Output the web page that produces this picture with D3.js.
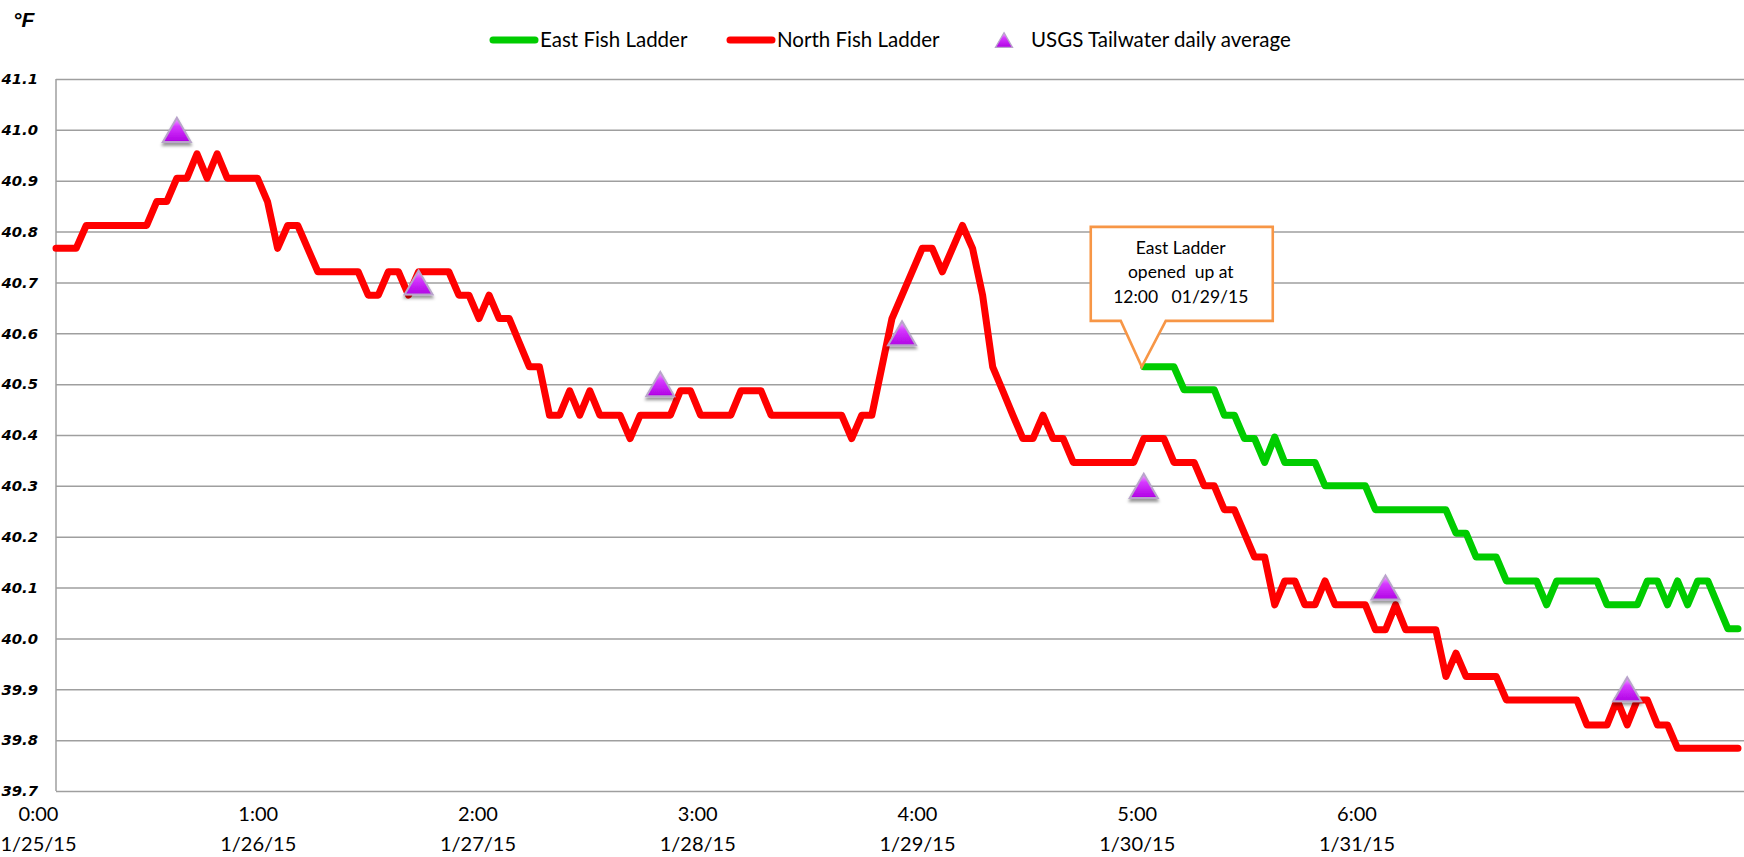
<!DOCTYPE html>
<html>
<head>
<meta charset="utf-8">
<script src="https://cdn.jsdelivr.net/npm/d3@7"></script>
<style>
	body { margin: 0; background: #fff; }
	svg { display: block; }
</style>
</head>
<body>
<svg id="tempChart" width="1744" height="857"></svg>
<script>
//=============== 데이터 (hours since 1/25/15 0:00, °F) ===============
const northHours = [0, 2, 3, 9, 10, 11, 12, 13, 14, 15, 16, 17, 20, 21, 22, 23, 24, 26, 30, 31, 32, 33, 34, 35, 36, 39, 40, 41, 42, 43, 44, 45, 47, 48, 49, 50, 51, 52, 53, 54, 56, 57, 58, 61, 62, 63, 64, 67, 68, 70, 71, 78, 79, 80, 81, 83, 86, 87, 88, 90, 91, 92, 93, 94, 95, 96, 97, 98, 99, 100, 101, 107, 108, 110, 111, 113, 114, 115, 116, 117, 119, 120, 121, 122, 123, 124, 125, 126, 127, 130, 131, 132, 133, 134, 137, 138, 139, 140, 143, 144, 151, 152, 154, 155, 156, 157, 158, 159, 160, 161, 167];
const northTemps = [40.767, 40.767, 40.812, 40.812, 40.859, 40.859, 40.905, 40.905, 40.953, 40.905, 40.953, 40.905, 40.905, 40.859, 40.767, 40.812, 40.812, 40.721, 40.721, 40.675, 40.675, 40.721, 40.721, 40.675, 40.721, 40.721, 40.675, 40.675, 40.629, 40.675, 40.629, 40.629, 40.534, 40.534, 40.439, 40.439, 40.487, 40.439, 40.487, 40.439, 40.439, 40.393, 40.439, 40.439, 40.487, 40.487, 40.439, 40.439, 40.487, 40.487, 40.439, 40.439, 40.393, 40.439, 40.439, 40.629, 40.767, 40.767, 40.721, 40.812, 40.767, 40.675, 40.534, 40.487, 40.439, 40.393, 40.393, 40.439, 40.393, 40.393, 40.346, 40.346, 40.393, 40.393, 40.346, 40.346, 40.300, 40.300, 40.253, 40.253, 40.160, 40.160, 40.066, 40.113, 40.113, 40.066, 40.066, 40.113, 40.066, 40.066, 40.017, 40.017, 40.066, 40.017, 40.017, 39.925, 39.971, 39.925, 39.925, 39.879, 39.879, 39.830, 39.830, 39.879, 39.830, 39.879, 39.879, 39.830, 39.830, 39.784, 39.784];

const eastHours = [108, 111, 112, 115, 116, 117, 118, 119, 120, 121, 122, 125, 126, 130, 131, 138, 139, 140, 141, 143, 144, 147, 148, 149, 153, 154, 157, 158, 159, 160, 161, 162, 163, 164, 166, 167];
const eastTemps = [40.534, 40.534, 40.489, 40.489, 40.439, 40.439, 40.393, 40.393, 40.346, 40.396, 40.346, 40.346, 40.300, 40.300, 40.253, 40.253, 40.207, 40.207, 40.160, 40.160, 40.113, 40.113, 40.066, 40.113, 40.113, 40.066, 40.066, 40.113, 40.113, 40.066, 40.113, 40.066, 40.113, 40.113, 40.019, 40.019];

const usgsHours = [12, 36, 60, 84, 108, 132, 156];
const usgsTemps = [41.0, 40.7, 40.5, 40.6, 40.3, 40.1, 39.9];

const yTicks = [39.7, 39.8, 39.9, 40.0, 40.1, 40.2, 40.3, 40.4, 40.5, 40.6, 40.7, 40.8, 40.9, 41.0, 41.1];
const xTickTimes = ["0:00", "1:00", "2:00", "3:00", "4:00", "5:00", "6:00"];
const xTickDates = ["1/25/15", "1/26/15", "1/27/15", "1/28/15", "1/29/15", "1/30/15", "1/31/15"];

const seriesNames = ["East Fish Ladder", "North Fish Ladder", "USGS Tailwater daily average"];
const calloutLines = ["East Ladder", "opened  up at", "12:00   01/29/15"];
const unitLabel = "°F";

//=============== 차트 ===============
const svg = d3.select("#tempChart");
const margin = { top: 79, left: 56 };
const plotW = 1688, plotH = 712;
const textFont = "Lato, 'Open Sans', sans-serif";

const x = d3.scaleLinear().domain([0, 167]).range([0, plotW - 6]);
const y = d3.scaleLinear().domain([39.7, 41.1]).range([plotH, 0]);
// 카테고리 라벨 축 (라벨 간격은 데이터 시간축과 별개)
const xLabel = d3.scaleLinear().domain([0, 6]).range([-18, 1300.5]);

// 삼각형 마커 그라데이션 + 그림자
const defs = svg.append("defs");
const grad = defs.append("linearGradient").attr("id", "triFill")
	.attr("x1", 0).attr("y1", 0).attr("x2", 0).attr("y2", 1);
grad.append("stop").attr("offset", "0%").attr("stop-color", "#f0b0ff");
grad.append("stop").attr("offset", "35%").attr("stop-color", "#d63aff");
grad.append("stop").attr("offset", "100%").attr("stop-color", "#b000e4");
defs.append("filter").attr("id", "triShadow")
	.attr("x", "-50%").attr("y", "-50%").attr("width", "200%").attr("height", "200%")
	.append("feDropShadow")
	.attr("dx", 0).attr("dy", 3).attr("stdDeviation", 1.8)
	.attr("flood-color", "#000").attr("flood-opacity", 0.4);

const triangle = {
	draw(ctx, size) {
		const w = Math.sqrt(size), h = w * 0.86;
		ctx.moveTo(0, -h / 2);
		ctx.lineTo(w / 2, h / 2);
		ctx.lineTo(-w / 2, h / 2);
		ctx.closePath();
	}
};

const g = svg.append("g").attr("transform", `translate(${margin.left},${margin.top})`);

// y축 + 격자선
const yAxis = g.append("g")
	.call(d3.axisLeft(y).tickValues(yTicks).tickFormat(d3.format(".1f"))
		.tickSizeInner(-plotW).tickSizeOuter(0).tickPadding(18));
yAxis.select(".domain").remove();
yAxis.selectAll(".tick line").attr("stroke", "#9f9f9f").attr("stroke-width", 1.5);
yAxis.selectAll(".tick text")
	.attr("fill", "#000")
	.style("font-family", "'DejaVu Sans', sans-serif")
	.style("font-weight", "bold")
	.style("font-style", "italic")
	.style("font-size", "14.8px");

g.append("line")
	.attr("x1", 0).attr("x2", 0).attr("y1", 0).attr("y2", plotH)
	.attr("stroke", "#9f9f9f").attr("stroke-width", 1.5);

// x축 라벨 (두 줄)
const xAxis = g.append("g")
	.attr("transform", `translate(0,${plotH})`)
	.call(d3.axisBottom(xLabel).tickValues(d3.range(xTickTimes.length)).tickSize(0));
xAxis.select(".domain").remove();
xAxis.selectAll(".tick text").each(function (d, i) {
	const t = d3.select(this).text(null).attr("y", null).attr("dy", null)
		.attr("fill", "#000")
		.style("font-family", textFont)
		.style("font-size", "20px");
	t.append("tspan").attr("x", 0).attr("y", 30).text(xTickTimes[i]);
	t.append("tspan").attr("x", 0).attr("y", 60).text(xTickDates[i]);
});

// 선
const line = d3.line().x(d => x(d[0])).y(d => y(d[1]));

g.append("path")
	.datum(d3.zip(northHours, northTemps))
	.attr("d", line)
	.attr("fill", "none")
	.attr("stroke", "#ff0000")
	.attr("stroke-width", 7)
	.attr("stroke-linejoin", "round")
	.attr("stroke-linecap", "round");

g.append("path")
	.datum(d3.zip(eastHours, eastTemps))
	.attr("d", line)
	.attr("fill", "none")
	.attr("stroke", "#00cc00")
	.attr("stroke-width", 7)
	.attr("stroke-linejoin", "round")
	.attr("stroke-linecap", "round");

// USGS 일평균 마커
g.selectAll(".usgs")
	.data(d3.zip(usgsHours, usgsTemps))
	.enter().append("path")
	.attr("class", "usgs")
	.attr("transform", d => `translate(${x(d[0])},${y(d[1])})`)
	.attr("d", d3.symbol(triangle, 28 * 28))
	.attr("fill", "url(#triFill)")
	.attr("stroke", "#b9a3cb")
	.attr("stroke-width", 2)
	.attr("filter", "url(#triShadow)");

// 말풍선 (East Ladder 개방 시점)
const tipX = x(eastHours[0]) - 2, tipY = y(eastTemps[0]);
const box = { left: tipX - 51, right: tipX + 131, top: tipY - 140, bottom: tipY - 46 };
const callout = d3.path();
callout.moveTo(box.left, box.top);
callout.lineTo(box.right, box.top);
callout.lineTo(box.right, box.bottom);
callout.lineTo(tipX + 24, box.bottom);
callout.lineTo(tipX, tipY);
callout.lineTo(tipX - 21, box.bottom);
callout.lineTo(box.left, box.bottom);
callout.closePath();
g.append("path")
	.attr("d", callout.toString())
	.attr("fill", "#fff")
	.attr("stroke", "#f79646")
	.attr("stroke-width", 2.6)
	.attr("stroke-linejoin", "miter");

g.append("text")
	.attr("text-anchor", "middle")
	.style("font-family", textFont)
	.style("font-size", "17.5px")
	.style("white-space", "pre")
	.selectAll("tspan")
	.data(calloutLines)
	.enter().append("tspan")
	.attr("x", tipX + 39)
	.attr("y", (d, i) => tipY - 113 + i * 24.5)
	.text(d => d);

// 단위
svg.append("text")
	.attr("x", 13).attr("y", 27)
	.style("font-family", "'Liberation Sans', Arial, sans-serif")
	.style("font-weight", "bold")
	.style("font-style", "italic")
	.style("font-size", "21px")
	.text(unitLabel);

// 범례
const legend = svg.append("g").attr("transform", "translate(0,40)");
const legendItems = [
	{ name: seriesNames[0], x: 490, color: "#00cc00", type: "line" },
	{ name: seriesNames[1], x: 727, color: "#ff0000", type: "line" },
	{ name: seriesNames[2], x: 995, type: "marker" }
];
legendItems.forEach(d => {
	if (d.type === "line") {
		legend.append("line")
			.attr("x1", d.x + 3).attr("x2", d.x + 45)
			.attr("stroke", d.color).attr("stroke-width", 7)
			.attr("stroke-linecap", "round");
		legend.append("text")
			.attr("x", d.x + 50).attr("dy", "0.36em")
			.style("font-family", textFont).style("font-size", "20.5px")
			.text(d.name);
	} else {
		legend.append("path")
			.attr("transform", `translate(${d.x + 9},0)`)
			.attr("d", d3.symbol(triangle, 17 * 17))
			.attr("fill", "url(#triFill)")
			.attr("stroke", "#b9a3cb")
			.attr("stroke-width", 1.3);
		legend.append("text")
			.attr("x", d.x + 36).attr("dy", "0.36em")
			.style("font-family", textFont).style("font-size", "20.5px")
			.text(d.name);
	}
});
</script>
</body>
</html>
